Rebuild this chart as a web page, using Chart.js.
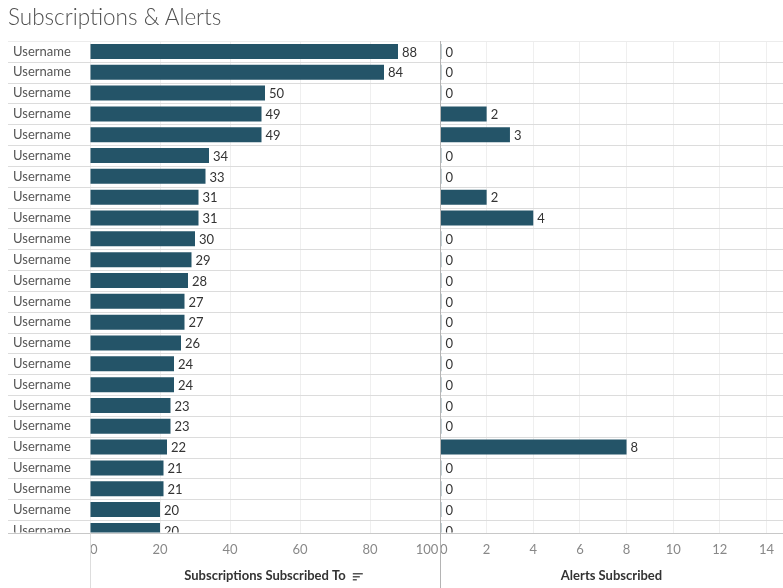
<!DOCTYPE html>
<html>
<head>
<meta charset="utf-8">
<script src="https://cdn.jsdelivr.net/npm/chart.js@4.4.1/dist/chart.umd.min.js"></script>
<style>
    body { margin: 0; background: #fff; }
    #wrap { position: relative; width: 783px; height: 588px; overflow: hidden; }
    #title { position: absolute; left: 8px; top: 3px; font: 300 22.5px Lato, sans-serif; color: #505050; }
    #leftBox { position: absolute; left: 0; top: 0; width: 440px; height: 588px; }
    #rightBox { position: absolute; left: 440px; top: 0; width: 343px; height: 588px; }
</style>
</head>
<body>
<div id="wrap">
    <div id="leftBox"><canvas id="subsChart"></canvas></div>
    <div id="rightBox"><canvas id="alertsChart"></canvas></div>
    <div id="title">Subscriptions &amp; Alerts</div>
</div>
<script>
// ---------------------------- les donnees ----------------------------//
const users = ['Username', 'Username', 'Username', 'Username', 'Username', 'Username',
    'Username', 'Username', 'Username', 'Username', 'Username', 'Username',
    'Username', 'Username', 'Username', 'Username', 'Username', 'Username',
    'Username', 'Username', 'Username', 'Username', 'Username', 'Username'];
const subscriptions = [88, 84, 50, 49, 49, 34, 33, 31, 31, 30, 29, 28, 27, 27, 26, 24, 24, 23, 23, 22, 21, 21, 20, 20];
const alerts = [0, 0, 0, 2, 3, 0, 0, 2, 4, 0, 0, 0, 0, 0, 0, 0, 0, 0, 0, 8, 0, 0, 0, 0];
const subsTicks = [0, 20, 40, 60, 80, 100];
const alertTicks = [0, 2, 4, 6, 8, 10, 12, 14];
const alertsMax = 14.71;   // the axis runs a bit past 14, cut by the window

const barColor = '#245468';
const zeroColor = 'rgba(36, 84, 104, 0.55)';
//---------------------------------------------------------------------//

// lignes entre les rangees + ligne de l'axe + bords
const rowLines = {
    id: 'rowLines',
    beforeDatasetsDraw(chart, args, opts) {
        const ctx = chart.ctx;
        const y = chart.scales.y;
        const area = chart.chartArea;
        ctx.save();
        ctx.lineWidth = 1;
        for (let i = 0; i < users.length; i++) {
            const py = Math.round(y.getPixelForValue(i - 0.5)) + 0.5;
            if (py > area.bottom - 1) break;
            ctx.strokeStyle = i === 0 ? '#ececec' : '#dcdcdc';
            ctx.beginPath();
            ctx.moveTo(opts.from, py);
            ctx.lineTo(chart.width, py);
            ctx.stroke();
        }
        ctx.restore();
    },
    afterDraw(chart, args, opts) {
        const ctx = chart.ctx;
        const area = chart.chartArea;
        ctx.save();
        // le dernier "Username" est coupe par l'axe
        ctx.fillStyle = '#fff';
        ctx.fillRect(0, area.bottom, area.left - 1, 8);
        const by = Math.round(area.bottom) + 0.5;
        ctx.strokeStyle = '#c8c8c8';
        ctx.beginPath();
        ctx.moveTo(opts.from, by);
        ctx.lineTo(chart.width, by);
        ctx.stroke();
        const lx = Math.round(area.left) + 0.5;
        ctx.strokeStyle = opts.frameColor;
        ctx.beginPath();
        ctx.moveTo(lx, opts.frameFromTop ? area.top : by);
        ctx.lineTo(lx, chart.height);
        ctx.stroke();
        ctx.restore();
    }
};

// les valeurs a droite des barres
const valueLabels = {
    id: 'valueLabels',
    afterDatasetsDraw(chart) {
        const ctx = chart.ctx;
        const area = chart.chartArea;
        const meta = chart.getDatasetMeta(0);
        const values = chart.data.datasets[0].data;
        ctx.save();
        ctx.beginPath();
        ctx.rect(0, area.top, chart.width, area.bottom - area.top);
        ctx.clip();
        ctx.font = '13px Lato';
        ctx.fillStyle = '#333';
        ctx.textBaseline = 'middle';
        meta.data.forEach((bar, i) => {
            ctx.fillText(String(values[i].x), Math.max(bar.x, bar.base) + 4, bar.y + 1);
        });
        ctx.restore();
    }
};

// petite icone de tri apres le titre de l'axe
const sortIcon = {
    id: 'sortIcon',
    afterDraw(chart) {
        const ctx = chart.ctx;
        const area = chart.chartArea;
        const xs = chart.scales.x;
        ctx.save();
        ctx.font = 'bold 13px Lato';
        const w = ctx.measureText(xs.options.title.text).width;
        const sx = (area.left + area.right) / 2 + w / 2 + 7;
        const top = chart.height - 15;
        ctx.fillStyle = '#555';
        ctx.fillRect(sx, top, 10, 1.5);
        ctx.fillRect(sx, top + 3, 7, 1.5);
        ctx.fillRect(sx, top + 6, 4, 1.5);
        ctx.restore();
    }
};

function rowScale(showLabels) {
    return {
        type: 'linear',
        display: showLabels,
        offset: false,
        reverse: true,
        min: -0.5,
        max: 23.1,
        afterBuildTicks: s => { s.ticks = users.map((u, i) => ({ value: i })) },
        afterFit: s => { s.width = showLabels ? 77 : 0 },
        grid: { display: false },
        border: { display: false },
        ticks: {
            autoSkip: false,
            crossAlign: 'far',
            color: '#555',
            font: { family: 'Lato', size: 13 },
            callback: v => users[v]
        }
    };
}

function valueScale(max, tickList, titleText) {
    return {
        min: 0,
        max: max,
        afterBuildTicks: s => { s.ticks = tickList.map(v => ({ value: v })) },
        afterFit: s => {
            s.height = 55.5;
            s.paddingLeft = 0;
            s.paddingRight = 0;
        },
        grid: {
            drawTicks: false,
            color: c => (c.tick && Number.isInteger(c.tick.value)) ? '#efefef' : 'rgba(0,0,0,0)'
        },
        border: { display: false },
        ticks: {
            align: 'inner',
            padding: 10,
            color: '#888',
            font: { family: 'Lato', size: 13 },
            callback: (v, i, all) => (Number.isInteger(v) ? (i === all.length - 1 ? v + '\u2009' : v) : '')
        },
        title: {
            display: true,
            text: titleText,
            color: '#333',
            font: { family: 'Lato', size: 13, weight: 'bold' },
            padding: { top: 0, bottom: 4 }
        }
    };
}

//------------------------------- Subscriptions -------------------------------//
new Chart(document.getElementById('subsChart'), {
    type: 'bar',
    data: {
        datasets: [{
            data: subscriptions.map((v, i) => ({ x: v, y: i })),
            backgroundColor: barColor,
            barPercentage: 0.72,
            categoryPercentage: 1
        }]
    },
    options: {
        indexAxis: 'y',
        responsive: true,
        maintainAspectRatio: false,
        animation: false,
        layout: { padding: { left: 13, top: 41, right: 0, bottom: 0 } },
        plugins: {
            legend: { display: false },
            tooltip: { enabled: false },
            rowLines: { from: 8, frameColor: '#dddddd', frameFromTop: false }
        },
        scales: {
            y: rowScale(true),
            x: valueScale(100, subsTicks, 'Subscriptions Subscribed To')
        }
    },
    plugins: [rowLines, valueLabels, sortIcon]
});

//------------------------------- Alerts -------------------------------//
new Chart(document.getElementById('alertsChart'), {
    type: 'bar',
    data: {
        datasets: [{
            data: alerts.map((v, i) => ({ x: v, y: i })),
            backgroundColor: c => (alerts[c.dataIndex] === 0 ? zeroColor : barColor),
            minBarLength: 1.5,
            barPercentage: 0.72,
            categoryPercentage: 1
        }]
    },
    options: {
        indexAxis: 'y',
        responsive: true,
        maintainAspectRatio: false,
        animation: false,
        layout: { padding: { left: 0, top: 41, right: 0, bottom: 0 } },
        plugins: {
            legend: { display: false },
            tooltip: { enabled: false },
            rowLines: { from: 0, frameColor: '#b4b4b4', frameFromTop: true }
        },
        scales: {
            y: rowScale(false),
            x: valueScale(alertsMax, alertTicks.concat([alertsMax]), 'Alerts Subscribed')
        }
    },
    plugins: [rowLines, valueLabels]
});
</script>
</body>
</html>
